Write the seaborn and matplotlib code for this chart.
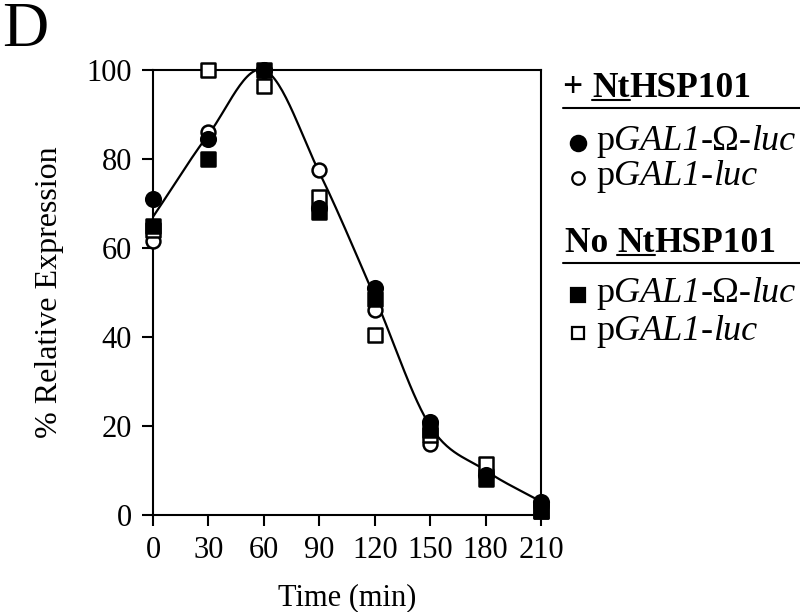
import numpy as np
import pandas as pd
import matplotlib
matplotlib.use("Agg")
import matplotlib.pyplot as plt
import seaborn as sns
from matplotlib.lines import Line2D

# time points (min)
time = [0, 30, 60, 90, 120, 150, 180, 210]

# % relative expression
plus_omega = [71, 84.5, 100, 69, 51, 21, 9, 3]      # filled circle
plus_noomega = [61.5, 86, 100, 77.5, 46, 16, 10, 2]  # open circle
no_omega = [65, 80, 100, 68, 48.5, 19, 8, 1]         # filled square
no_noomega = [64, 100, 96.5, 71.5, 40.5, 18, 11.5, 1]  # open square

# knots of the fitted curve
curve_t = [0, 30, 60, 90, 120, 150, 180, 210]
curve_y = [67, 85.5, 100, 77, 49, 20, 10, 3]

xticks = [0, 30, 60, 90, 120, 150, 180, 210]
yticks = [0, 20, 40, 60, 80, 100]

sns.set_theme(style="white")
plt.rcParams["font.family"] = ["Liberation Serif", "DejaVu Serif"]


def catmull(xs, ys, n=30):
    # smooth path through the curve knots
    xs = np.asarray(xs, float)
    ys = np.asarray(ys, float)
    px = np.concatenate([[2 * xs[0] - xs[1]], xs, [2 * xs[-1] - xs[-2]]])
    py = np.concatenate([[2 * ys[0] - ys[1]], ys, [2 * ys[-1] - ys[-2]]])
    ox, oy = [], []
    s = np.linspace(0, 1, n, endpoint=False)
    for i in range(1, len(px) - 2):
        for arr, out in ((px, ox), (py, oy)):
            p0, p1, p2, p3 = arr[i - 1], arr[i], arr[i + 1], arr[i + 2]
            out.extend(0.5 * (2 * p1 + (-p0 + p2) * s + (2 * p0 - 5 * p1 + 4 * p2 - p3) * s ** 2
                              + (-p0 + 3 * p1 - 3 * p2 + p3) * s ** 3))
    ox.append(xs[-1])
    oy.append(ys[-1])
    return np.array(ox), np.array(oy)


fig = plt.figure(figsize=(8, 6.12), dpi=100)
ax = fig.add_axes([153 / 800, 1 - 515 / 612, (541 - 153) / 800, (515 - 70) / 612])

cx, cy = catmull(curve_t, curve_y)
sns.lineplot(x=cx, y=cy, ax=ax, color="black", lw=1.6, sort=False, zorder=2)

series = [
    (plus_noomega, "o", "white", 10),
    (no_noomega, "s", "white", 9.5),
    (no_omega, "s", "black", 9.5),
    (plus_omega, "o", "black", 10.5),
]
for vals, mk, fc, ms in series:
    df = pd.DataFrame({"t": time, "v": vals})
    sns.scatterplot(data=df, x="t", y="v", ax=ax, marker=mk, s=ms ** 2,
                    facecolor=fc, edgecolor="black", linewidth=1.8,
                    zorder=3, clip_on=False, legend=False)

ax.set_xlim(0, 210)
ax.set_ylim(0, 100)
ax.set_xticks(xticks)
ax.set_yticks(yticks)
ax.tick_params(axis="both", which="major", direction="out", length=8, width=1.5,
               color="black", labelsize=22, labelcolor="black",
               left=True, bottom=True)
ax.tick_params(axis="x", pad=7)
ax.tick_params(axis="y", pad=7)
for sp in ax.spines.values():
    sp.set_color("black")
    sp.set_linewidth(1.5)
ax.set_xlabel("Time (min)", fontsize=22, color="black", labelpad=13)
ax.set_ylabel("% Relative Expression", fontsize=23, color="black", labelpad=16)

fig.text(2 / 800, 1 - 46 / 612, "D", fontsize=46, color="black", ha="left", va="baseline")


def fx(x):
    return x / 800


def fy(y):
    return 1 - y / 612


fig.canvas.draw()
rend = fig.canvas.get_renderer()


def pieces(x, y, parts, size, weight="normal"):
    # lay text parts side by side, returns (start, end) pixel x of each part
    spans = []
    for txt, style in parts:
        t = fig.text(fx(x), fy(y), txt, fontsize=size, fontweight=weight,
                     fontstyle=style, color="black", va="baseline")
        w = t.get_window_extent(rend).width
        spans.append((x, x + w))
        x += w
    return spans


def header(x, y, pre):
    sp = pieces(x, y, [(pre, "normal"), ("Nt", "normal"), ("HSP101", "normal")], 25.5, "bold")
    x0, x1 = sp[1]
    fig.add_artist(Line2D([fx(x0), fx(x1)], [fy(y + 3), fy(y + 3)], color="black", lw=1.5))


header(563, 97, "+ ")
header(565, 252, "No ")
for yy in (108, 263):
    fig.add_artist(Line2D([fx(563), fx(800)], [fy(yy), fy(yy)], color="black", lw=1.5))

omega_parts = [("p", "normal"), ("GAL1", "italic"), ("-Ω-", "normal"), ("luc", "italic")]
plain_parts = [("p", "normal"), ("GAL1", "italic"), ("-", "normal"), ("luc", "italic")]
entries = [
    (143, "o", "black", 11, omega_parts),
    (178, "o", "white", 9, plain_parts),
    (295, "s", "black", 9.5, omega_parts),
    (333, "s", "white", 8.5, plain_parts),
]
for yy, mk, fc, ms, parts in entries:
    fig.add_artist(Line2D([fx(578)], [fy(yy)], marker=mk, ms=ms, mfc=fc, mec="black",
                          mew=1.6, ls="none"))
    pieces(596, yy + 7, parts, 26)

fig.savefig("out.png", dpi=100)
